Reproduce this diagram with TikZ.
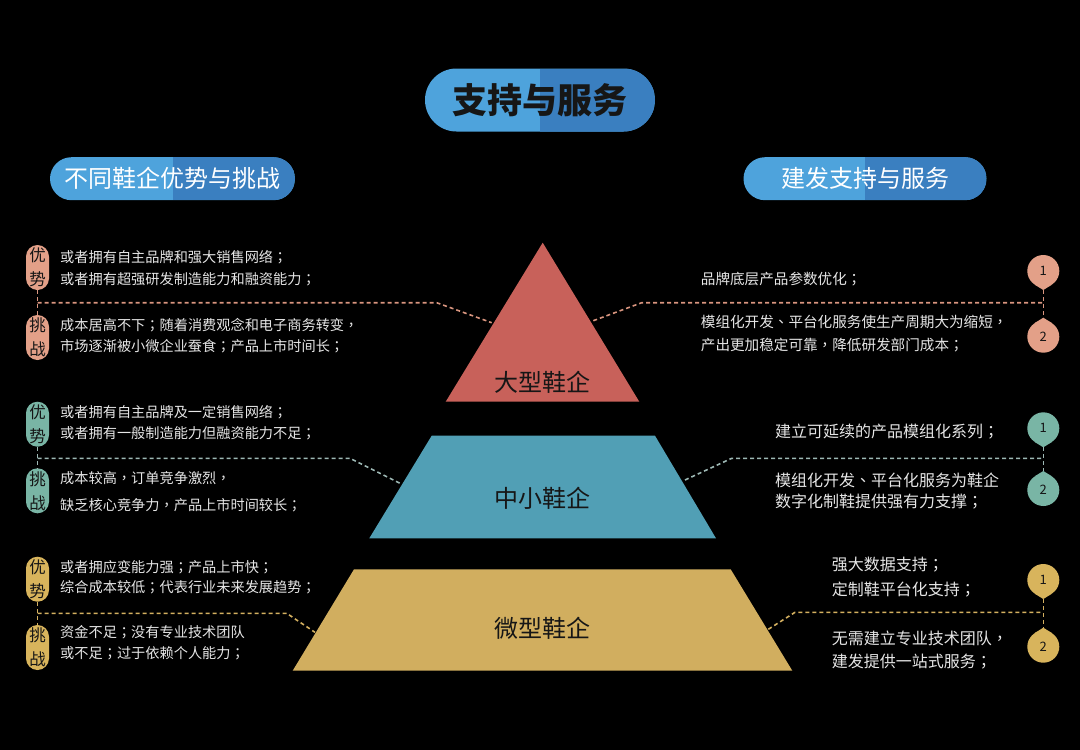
\documentclass[tikz,border=0pt]{standalone}
\usepackage{fontspec}
\setmainfont{Noto Sans CJK SC}
\newfontfamily\tcfont{Noto Sans CJK TC}
\newcommand\fsemi{{\tcfont ；}}
\newcommand\fcomma{{\tcfont ，}}
\newcommand\fdun{{\tcfont 、}}
\usetikzlibrary{calc}
\definecolor{hlight}{HTML}{4EA3DC}
\definecolor{hdark}{HTML}{3A7FC0}
\definecolor{tred}{HTML}{C8615A}
\definecolor{tteal}{HTML}{519FB5}
\definecolor{tgold}{HTML}{D1AE5F}
\definecolor{pred}{HTML}{E3A088}
\definecolor{pteal}{HTML}{79B5A5}
\definecolor{pgold}{HTML}{D8B45C}
\definecolor{dred}{HTML}{D9957F}
\definecolor{dteal}{HTML}{9DB8B4}
\definecolor{dgold}{HTML}{D4B060}
\definecolor{bodytext}{HTML}{E6E6E6}
\definecolor{darktext}{HTML}{161616}
\begin{document}
\begin{tikzpicture}[x=1pt,y=-1pt,
  header/.style={rounded corners=21.5pt, fill=hlight, inner sep=0pt, minimum height=43pt,
    text=white, font=\fontsize{24}{24}\selectfont,
    path picture={\fill[hdark, sharp corners] (path picture bounding box.north) rectangle (path picture bounding box.south east);}},
  tag/.style={fill=#1, rounded corners=11.5pt, minimum width=23pt, minimum height=45pt, inner sep=0pt,
    align=center, text=darktext, font=\fontsize{16.5}{24}\selectfont},
  lt/.style={anchor=west, inner sep=0pt, text=bodytext, font=\fontsize{14.2}{16}\selectfont},
  rt/.style={anchor=west, inner sep=0pt, text=bodytext, font=\fontsize{#1}{18}\selectfont},
  marker/.style={circle, fill=#1, minimum size=32pt, inner sep=0pt, text=darktext, font=\fontsize{13}{13}\selectfont},
  tier/.style={text=darktext, font=\fontsize{24}{24}\selectfont, inner sep=0pt},
  link/.style={draw=#1, line width=1.6pt, dash pattern=on 4pt off 3pt},
]
\fill[black] (0,0) rectangle (1080,750);
\useasboundingbox (0,0) rectangle (1080,750);

% headers
\node[header, minimum width=230pt, rounded corners=31.5pt, minimum height=63pt, text=darktext,
  font=\fontsize{35}{35}\selectfont\bfseries] (title) at (540,100) {支持与服务};
\node[header, minimum width=245pt] (lhead) at (172.5,178.7) {\makebox[216pt][s]{不\hfill 同\hfill 鞋\hfill 企\hfill 优\hfill 势\hfill 与\hfill 挑\hfill 战}};
\node[header, minimum width=243pt] (rhead) at (865,178.7) {建发支持与服务};

% pyramid
\fill[tred] (542.7,242.7) -- (639.3,401.7) -- (445.7,401.7) -- cycle;
\fill[tteal] (431.7,435.7) -- (655,435.7) -- (716,538.3) -- (369.3,538.3) -- cycle;
\fill[tgold] (354,569.3) -- (730.7,569.3) -- (792.3,670.7) -- (292.7,670.7) -- cycle;
\node[tier] (big) at (542.7,382.7) {大型鞋企};
\node[tier] (mid) at (542.7,498.3) {中小鞋企};
\node[tier] (small) at (542.7,628.3) {微型鞋企};

\coordinate (eL1) at (491.7,322.7);
\coordinate (eR1) at (593.3,320.7);
\coordinate (eL2) at (400,483.3);
\coordinate (eR2) at (685,480);
\coordinate (eL3) at (315,632.3);
\coordinate (eR3) at (768.3,629.3);

% left tags
\node[tag=pred] (a1) at (37.5,267.5) {优\\势};
\node[tag=pred] (c1) at (37.5,337.5) {挑\\战};
\node[tag=pteal] (a2) at (37.5,424.2) {优\\势};
\node[tag=pteal] (c2) at (37.5,490.8) {挑\\战};
\node[tag=pgold] (a3) at (37.5,579.2) {优\\势};
\node[tag=pgold] (c3) at (37.5,647.5) {挑\\战};
\coordinate (j1) at (37.5,302.7);
\coordinate (j2) at (37.5,458.3);
\coordinate (j3) at (37.5,613.3);

\draw[link=dred] (a1.south) -- (c1.north);
\draw[link=dred] (j1) -- (436.7,302.7) -- (eL1);
\draw[link=dteal] (a2.south) -- (c2.north);
\draw[link=dteal] (j2) -- (350,458.3) -- (eL2);
\draw[link=dgold] (a3.south) -- (c3.north);
\draw[link=dgold] (j3) -- (286.7,613.3) -- (eL3);

% left texts
\node[lt] (t1a) at (60,256.7) {或者拥有自主品牌和强大销售网络\fsemi};
\node[lt] (t1b) at (60,279.3) {或者拥有超强研发制造能力和融资能力\fsemi};
\node[lt] (t1c) at (60,325) {成本居高不下\fsemi 随着消费观念和电子商务转变\fcomma};
\node[lt] (t1d) at (60,345.7) {市场逐渐被小微企业蚕食\fsemi 产品上市时间长\fsemi};
\node[lt] (t2a) at (60,411.7) {或者拥有自主品牌及一定销售网络\fsemi};
\node[lt] (t2b) at (60,433.3) {或者拥有一般制造能力但融资能力不足\fsemi};
\node[lt] (t2c) at (60,478.3) {成本较高\fcomma 订单竞争激烈\fcomma};
\node[lt] (t2d) at (60,505) {缺乏核心竞争力\fcomma 产品上市时间较长\fsemi};
\node[lt] (t3a) at (60,566.7) {或者拥应变能力强\fsemi 产品上市快\fsemi};
\node[lt] (t3b) at (60,587.7) {综合成本较低\fsemi 代表行业未来发展趋势\fsemi};
\node[lt] (t3c) at (60,632.3) {资金不足\fsemi 没有专业技术团队};
\node[lt] (t3d) at (60,653.3) {或不足\fsemi 过于依赖个人能力\fsemi};

% right markers
\node[marker=pred] (r11) at (1043.3,271) {1};
\node[marker=pred] (r12) at (1043.3,336.7) {2};
\node[marker=pteal] (r21) at (1043.3,428.3) {1};
\node[marker=pteal] (r22) at (1043.3,490) {2};
\node[marker=pgold] (r31) at (1043.3,580) {1};
\node[marker=pgold] (r32) at (1043.3,646.7) {2};
\foreach \m/\c in {r11/pred,r21/pteal,r31/pgold}{
  \coordinate (\m t) at ($(\m.center)+(0,19)$);
  \fill[\c] (\m.-57) -- (\m t) -- (\m.-123) -- cycle;
}
\foreach \m/\c in {r12/pred,r22/pteal,r32/pgold}{
  \coordinate (\m t) at ($(\m.center)+(0,-19)$);
  \fill[\c] (\m.57) -- (\m t) -- (\m.123) -- cycle;
}
\coordinate (k1) at (1043.3,302.7);
\coordinate (k2) at (1043.3,458.3);
\coordinate (k3) at (1043.3,612.3);
\draw[link=dred] (r11t) -- (r12t);
\draw[link=dred] (eR1) -- (641.7,302.7) -- (k1);
\draw[link=dteal] (r21t) -- (r22t);
\draw[link=dteal] (eR2) -- (731.7,458.3) -- (k2);
\draw[link=dgold] (r31t) -- (r32t);
\draw[link=dgold] (eR3) -- (795,612.3) -- (k3);

% right texts
\node[rt=14.6] (s1a) at (700.7,279.3) {品牌底层产品参数优化\fsemi};
\node[rt=14.6] (s1b) at (700.7,321.7) {模组化开发\fdun 平台化服务使生产周期大为缩短\fcomma};
\node[rt=14.6] (s1c) at (700.7,345) {产出更加稳定可靠\fcomma 降低研发部门成本\fsemi};
\node[rt=16] (s2a) at (775,431.7) {建立可延续的产品模组化系列\fsemi};
\node[rt=16] (s2b) at (775,480) {模组化开发\fdun 平台化服务为鞋企};
\node[rt=16] (s2c) at (775,501.7) {数字化制鞋提供强有力支撑\fsemi};
\node[rt=16] (s3a) at (831.7,565) {强大数据支持\fsemi};
\node[rt=16] (s3b) at (831.7,590) {定制鞋平台化支持\fsemi};
\node[rt=16] (s3c) at (831.7,638.3) {无需建立专业技术团队\fcomma};
\node[rt=16] (s3d) at (831.7,661.7) {建发提供一站式服务\fsemi};
\end{tikzpicture}
\end{document}
